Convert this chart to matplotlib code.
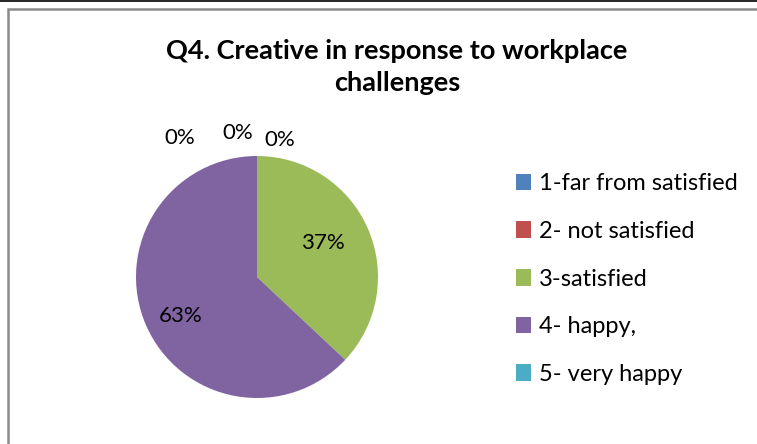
import matplotlib.pyplot as plt
from matplotlib.patches import Rectangle

categories = ['1-far from satisfied', '2- not satisfied', '3-satisfied', '4- happy,', '5- very happy']
values = [0, 0, 37, 63, 0]
colors = ['#4F81BD', '#C0504D', '#9BBB59', '#8064A2', '#4BACC6']
title = 'Q4. Creative in response to workplace\nchallenges'

# label spots in pixel space (x, y from top) - estimated from reference
label_pos = [(180, 138), (238, 133), (280, 140), (181, 316), (323, 243)]
label_idx = [0, 1, 4, 3, 2]

plt.rcParams['font.family'] = ['Lato', 'DejaVu Sans']

W, H = 757, 444
fig = plt.figure(figsize=(W / 100, H / 100), dpi=100)
ax = fig.add_axes([0, 0, 1, 1])

# chart frame (cut at the right and bottom like the screenshot)
ax.add_patch(Rectangle((8, -20), W + 40, H + 20 - 9, fill=False, edgecolor='#8a8a8a', linewidth=1.8))
ax.axhline(H - 0.5, color='black', linewidth=1.2)

wedges, _ = ax.pie(values, colors=colors, startangle=90, counterclock=False,
                   center=(257, H - 277), radius=121, frame=True)
ax.set_xlim(0, W)
ax.set_ylim(0, H)
ax.axis('off')

for (x, y), i in zip(label_pos, label_idx):
    ax.text(x, H - y, f'{values[i]}%', ha='center', va='center', fontsize=16, color='black')

ax.text(397, H - 67, title, ha='center', va='center', fontsize=19.5, fontweight='bold',
        linespacing=1.38)

leg = ax.legend(wedges, categories, loc='upper left', bbox_to_anchor=(495 / W, 1 - 152 / H),
                bbox_transform=fig.transFigure, frameon=False, fontsize=17,
                handlelength=0.64, handleheight=0.7, handletextpad=0.33, labelspacing=1.13)

fig.savefig('out.png', dpi=100)
